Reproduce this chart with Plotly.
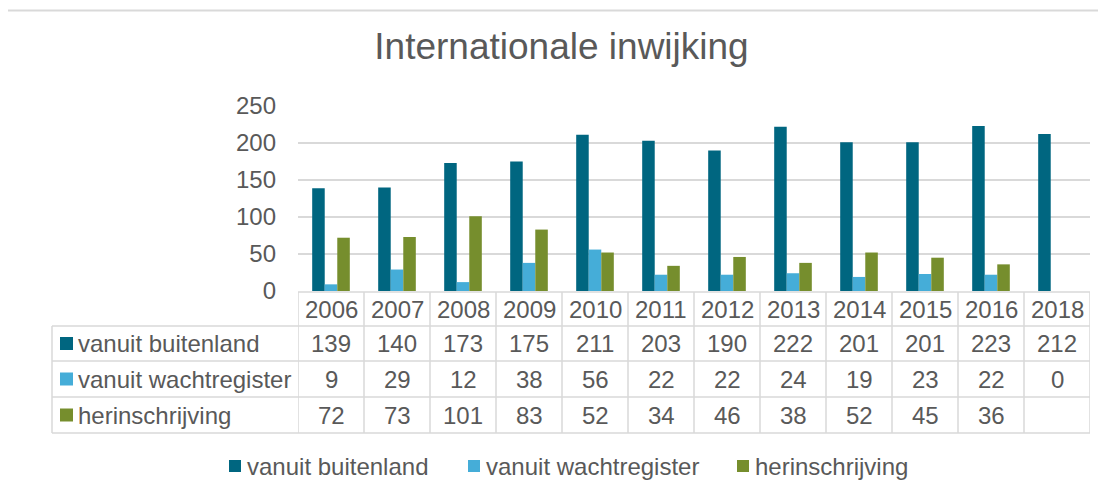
import plotly.graph_objects as go

years = ["2006", "2007", "2008", "2009", "2010", "2011", "2012", "2013", "2014", "2015", "2016", "2018"]
buitenland = [139, 140, 173, 175, 211, 203, 190, 222, 201, 201, 223, 212]
wachtregister = [9, 29, 12, 38, 56, 22, 22, 24, 19, 23, 22, 0]
herinschrijving = [72, 73, 101, 83, 52, 34, 46, 38, 52, 45, 36, None]

series_names = ["vanuit buitenland", "vanuit wachtregister", "herinschrijving"]
series_values = [buitenland, wachtregister, herinschrijving]
colors = ["#006680", "#45ADD8", "#768E2D"]

TXT = "#595959"
GRID = "#D9D9D9"
FONT = "Arial, Liberation Sans, sans-serif"
FS = 24

OFF = 8  # default page body margin
W, H = 1090, 483
L, R, T, B = 290, 8, 98, 200
PW = W - L - R
PH = H - T - B


def px(xpage):
    return (xpage - OFF - L) / PW


def py(ypage):
    return (H - B - (ypage - OFF)) / PH


fig = go.Figure()
for name, vals, col in zip(series_names, series_values, colors):
    fig.add_trace(go.Bar(
        x=years, y=vals, name=name,
        marker=dict(color=col, line=dict(width=0)), showlegend=False,
    ))

shapes = []
lw = 1.5
n = len(years)

# Data table text
row_y = [343.5, 379, 415]
for name, vals, col, ry in zip(series_names, series_values, colors, row_y):
    for j, v in enumerate(vals):
        fig.add_annotation(x=j, xref="x", y=py(ry), yref="paper",
                           text="" if v is None else str(v), showarrow=False,
                           font=dict(family=FONT, size=FS, color=TXT),
                           xanchor="center", yanchor="middle")
    shapes.append(dict(type="rect", xref="paper", yref="paper",
                       x0=px(60), x1=px(73), y0=py(ry + 6.5), y1=py(ry - 6.5),
                       fillcolor=col, line=dict(width=0)))
    fig.add_annotation(x=px(76), xref="paper", y=py(ry), yref="paper",
                       text=name, showarrow=False,
                       font=dict(family=FONT, size=FS, color=TXT),
                       xanchor="left", yanchor="middle")
for j, yr in enumerate(years):
    fig.add_annotation(x=j, xref="x", y=py(309.5), yref="paper",
                       text=yr, showarrow=False,
                       font=dict(family=FONT, size=FS, color=TXT),
                       xanchor="center", yanchor="middle")

# Table grid lines
for k in range(n + 1):
    shapes.append(dict(type="line", xref="x", yref="paper", x0=k - 0.5, x1=k - 0.5,
                       y0=py(292), y1=py(433), line=dict(color=GRID, width=lw)))
shapes.append(dict(type="line", xref="paper", yref="paper", x0=px(52), x1=px(52),
                   y0=py(326), y1=py(433), line=dict(color=GRID, width=lw)))
shapes.append(dict(type="line", xref="paper", yref="paper", x0=0, x1=1,
                   y0=py(292), y1=py(292), line=dict(color=GRID, width=lw)))
for yy in [326, 361, 397, 433]:
    shapes.append(dict(type="line", xref="paper", yref="paper", x0=px(52), x1=1,
                       y0=py(yy), y1=py(yy), line=dict(color=GRID, width=lw)))

# Legend (swatch + label)
leg_x = [229, 468, 737]
leg_y = 466
for name, col, lx in zip(series_names, colors, leg_x):
    shapes.append(dict(type="rect", xref="paper", yref="paper",
                       x0=px(lx), x1=px(lx + 12), y0=py(leg_y + 6), y1=py(leg_y - 6),
                       fillcolor=col, line=dict(width=0)))
    fig.add_annotation(x=px(lx + 16), xref="paper", y=py(leg_y), yref="paper",
                       text=name, showarrow=False,
                       font=dict(family=FONT, size=FS, color=TXT),
                       xanchor="left", yanchor="middle")

# outer chart border
shapes.append(dict(type="rect", xref="paper", yref="paper", x0=px(7), x1=px(1140),
                   y0=py(540), y1=py(10.5), line=dict(color=GRID, width=2)))

fig.update_layout(
    width=W, height=H,
    margin=dict(l=L, r=R, t=T, b=B),
    paper_bgcolor="white", plot_bgcolor="white",
    barmode="group", bargap=0.43, bargroupgap=0,
    title=dict(text="Internationale inwijking", x=(561.5 - OFF) / W, xref="container",
               xanchor="center", y=1 - (46 - OFF) / H, yref="container", yanchor="middle",
               font=dict(family=FONT, size=37, color=TXT)),
    xaxis=dict(type="category", range=[-0.5, n - 0.5], showticklabels=False,
               showgrid=False, zeroline=False, showline=False),
    yaxis=dict(range=[0, 250], dtick=50, showgrid=True, gridcolor=GRID, gridwidth=1.5,
               zeroline=False, showline=False, ticks="", ticklabelstandoff=21,
               tickfont=dict(family=FONT, size=FS, color=TXT)),
    shapes=shapes,
    showlegend=False,
)

fig.write_html("out.html")
